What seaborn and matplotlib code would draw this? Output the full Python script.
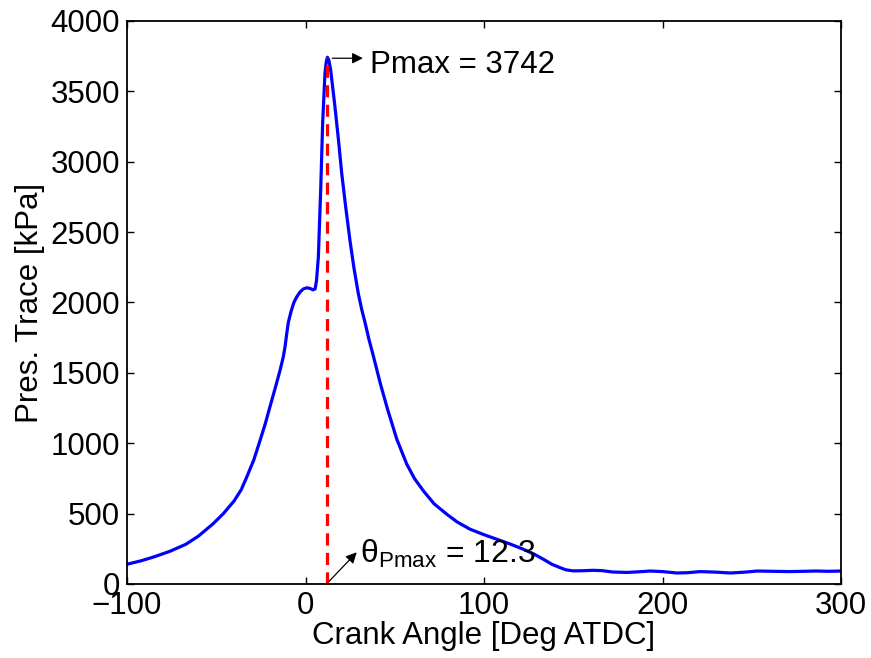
import matplotlib
matplotlib.use("Agg")
import matplotlib.pyplot as plt
import seaborn as sns
import pandas as pd

# ---- data ----
crank_angle = [-100, -92, -85, -76, -67, -60, -52, -46, -40, -36, -33, -29, -25.5, -22.5, -20,
               -17, -14.3, -12.5, -11.5, -10.5, -9.6, -8, -6.5, -4.9, -3, -1.2, 0.7, 2.5, 4.2,
               5.4, 6.2, 7.2, 8.5, 9.6, 10.9, 11.7, 12.3, 13.1, 14.1, 16.5, 18.5, 20.3, 22.5,
               24.9, 27.2, 29.6, 31.5, 33.3, 35.5, 38, 42, 46, 51.1, 56.7, 61, 66, 72, 79.1,
               85, 92.2, 100, 107.1, 115, 122, 128, 133.2, 138, 142.6, 146, 150, 155, 161, 166,
               172, 180, 186, 193, 200, 208, 214, 221, 230, 238, 246, 253, 262, 271, 279, 286,
               293, 300]
pressure = [140, 165, 192, 232, 282, 340, 425, 500, 590, 670, 757, 880, 1018, 1140, 1255,
            1390, 1516, 1610, 1682, 1780, 1860, 1940, 2000, 2040, 2075, 2096, 2104, 2100, 2090,
            2096, 2160, 2322, 2797, 3272, 3628, 3715, 3742, 3720, 3651, 3390, 3150, 2916, 2680,
            2441, 2240, 2062, 1950, 1860, 1740, 1620, 1420, 1240, 1030, 852, 750, 662, 570, 496,
            440, 389, 350, 318, 282, 247, 212, 176, 140, 116, 100, 93, 94, 97, 95,
            85, 82, 86, 92, 88, 78, 80, 88, 84, 78, 84, 92, 90, 88, 90, 92,
            90, 92]
theta_pmax = 12.3
p_max = 3742
x_ticks = [-100, 0, 100, 200, 300]
y_ticks = [0, 500, 1000, 1500, 2000, 2500, 3000, 3500, 4000]

trace = pd.DataFrame({"angle": crank_angle, "pressure": pressure})
peak = pd.DataFrame({"angle": [theta_pmax, theta_pmax], "pressure": [0, p_max]})

sns.set_style("ticks")
plt.rcParams["font.family"] = ["Liberation Sans", "DejaVu Sans"]
plt.rcParams["mathtext.fontset"] = "custom"
plt.rcParams["mathtext.rm"] = "Liberation Sans"
plt.rcParams["mathtext.it"] = "Liberation Sans"
plt.rcParams["axes.unicode_minus"] = True
plt.rcParams["text.color"] = "black"
plt.rcParams["axes.labelcolor"] = "black"
plt.rcParams["xtick.color"] = "black"
plt.rcParams["ytick.color"] = "black"

FS = 22.5

fig = plt.figure(figsize=(8.71, 6.58), dpi=100)
ax = fig.add_axes([0.1458, 0.1125, 0.8198, 0.8557])

sns.lineplot(data=trace, x="angle", y="pressure", ax=ax, color=(0, 0, 1),
             linewidth=2.3, sort=False, estimator=None)
sns.lineplot(data=peak, x="angle", y="pressure", ax=ax, color=(1, 0, 0),
             linewidth=2.3, dashes=False, estimator=None)
ax.lines[-1].set_dashes((3.8, 2.3))

ax.set_xlim(-100, 300)
ax.set_ylim(0, 4000)
ax.set_xticks(x_ticks)
ax.set_yticks(y_ticks)
ax.tick_params(direction="in", length=5, width=1, labelsize=FS, pad=5,
               top=True, right=True, colors="black", labelcolor="black")
for s in ax.spines.values():
    s.set_visible(True)
    s.set_linewidth(1.3)
    s.set_color("black")

ax.set_xlabel("Crank Angle [Deg ATDC]", fontsize=FS, labelpad=0)
ax.set_ylabel("Pres. Trace [kPa]", fontsize=FS, labelpad=4)

# Pmax annotation
ax.annotate("", xy=(32.2, 3735), xytext=(15.0, 3735),
            arrowprops=dict(arrowstyle="-|>", color="black", lw=0.9,
                            mutation_scale=16, shrinkA=0, shrinkB=0))
ax.text(36.0, 3690, "Pmax = %d" % p_max, fontsize=FS, va="center", ha="left")

# theta annotation
ax.annotate("", xy=(28.7, 225), xytext=(13.3, 20),
            arrowprops=dict(arrowstyle="-|>", color="black", lw=0.9,
                            mutation_scale=16, shrinkA=0, shrinkB=0))
ax.text(30.3, 215, r"$\mathrm{\theta}_{\mathrm{Pmax}}$ = %.1f" % theta_pmax,
        fontsize=FS + 0.5, va="center", ha="left")

fig.savefig("out.png", dpi=100)
